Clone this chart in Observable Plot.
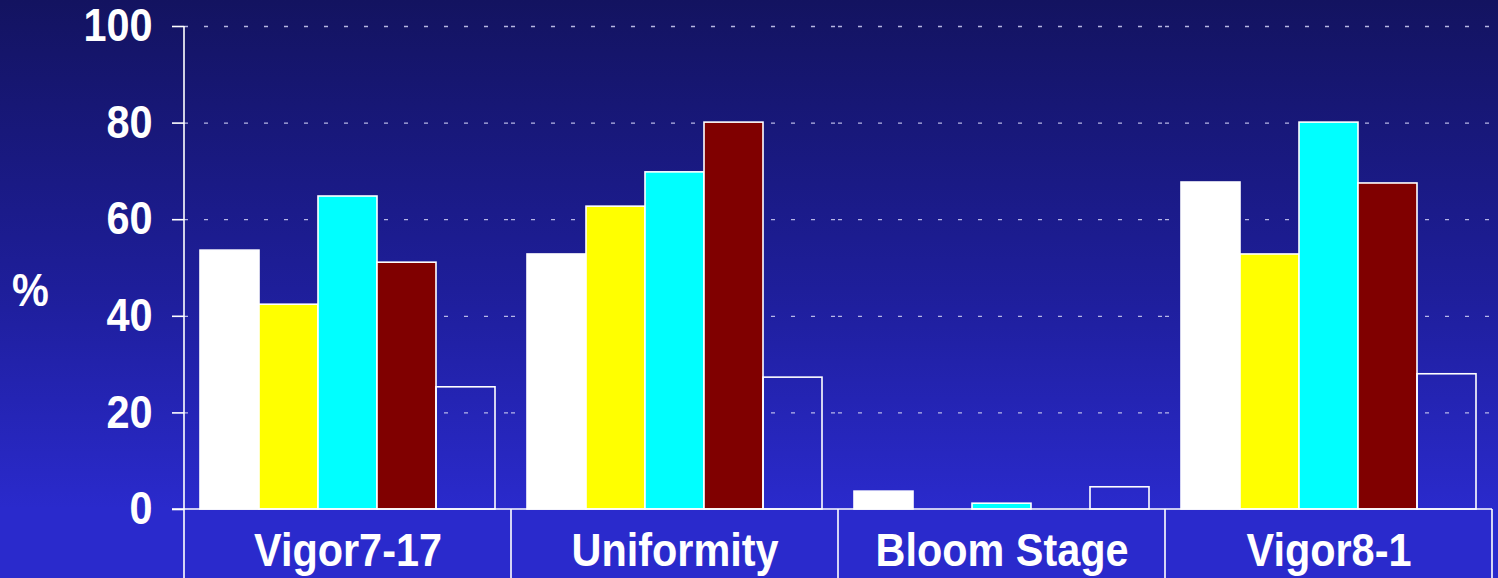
<!DOCTYPE html>
<html><head><meta charset="utf-8">
<script src="https://cdn.jsdelivr.net/npm/d3@7"></script>
<script src="https://cdn.jsdelivr.net/npm/@observablehq/plot@0.6"></script>
<style>
html,body{margin:0;padding:0;width:1498px;height:578px;overflow:hidden;background:linear-gradient(to bottom,#131360 0%,#1e1e9a 50%,#2a2acc 88%,#2a2acc 100%);}
</style></head><body><div id="chart"></div>
<script>
const categories = ["Vigor7-17", "Uniformity", "Bloom Stage", "Vigor8-1"];
const seriesNames = ["S1", "S2", "S3", "S4", "S5"];
const seriesFills = ["#ffffff", "#ffff00", "#00ffff", "#800000", "none"];
const vigor717 = [53.6, 42.4, 64.8, 51.1, 25.3];
const uniformity = [52.8, 62.7, 69.8, 80.1, 27.3];
const bloomStage = [3.7, 0, 1.2, 0, 4.6];
const vigor81 = [67.7, 52.8, 80.1, 67.5, 28.0];
const yTicks = [0, 20, 40, 60, 80, 100];
const yLabel = "%";

const valuesByCategory = [vigor717, uniformity, bloomStage, vigor81];
const data = categories.flatMap((c, i) => seriesNames.map((s, j) => ({category: c, series: s, value: valuesByCategory[i][j]})));

const font = '"Liberation Sans",Arial,sans-serif';

const chart = Plot.plot({
  width: 1498, height: 578,
  marginLeft: 183, marginRight: 6, marginTop: 26, marginBottom: 69,
  style: {background: "transparent", color: "white", fontFamily: font, fontWeight: "bold", overflow: "visible"},
  fx: {domain: categories, padding: 0},
  x: {domain: seriesNames, paddingInner: 0, paddingOuter: 0.235, axis: null},
  y: {domain: [0, 100], ticks: yTicks},
  color: {type: "ordinal", domain: seriesNames, range: seriesFills},
  marks: [
    Plot.gridY(yTicks.filter(t => t > 0), {stroke: "#c8c8ee", strokeOpacity: 0.9, strokeWidth: 1.3, strokeDasharray: "4,16"}),
    Plot.barY(data, {fx: "category", x: "series", y: "value", fill: "series", stroke: "white", strokeWidth: 1.6}),
    Plot.axisY(yTicks, {tickSize: 12, tickPadding: 20, fontSize: 46, label: null, strokeWidth: 1.6}),
    Plot.axisFx({anchor: "bottom", tickSize: 0, tickPadding: 24, fontSize: 46, label: null}),
  ]
});
document.getElementById("chart").appendChild(chart);

// axis lines and category dividers, positioned from Plot's own scales
const fx = chart.scale("fx"), y = chart.scale("y");
const svg = d3.select(chart);
const y0 = y.apply(0);
const bw = fx.bandwidth;
const g = svg.append("g").attr("stroke", "white").attr("stroke-width", 1.6);
const left = fx.apply(categories[0]);
const right = fx.apply(categories[categories.length - 1]) + bw;
g.append("line").attr("x1", left - 12).attr("x2", right).attr("y1", y0).attr("y2", y0);
g.append("line").attr("x1", left).attr("x2", left).attr("y1", y.apply(100)).attr("y2", 578);
categories.forEach(c => {
  const xr = fx.apply(c) + bw;
  g.append("line").attr("x1", xr).attr("x2", xr).attr("y1", y0).attr("y2", 578);
});
svg.append("text").attr("x", 12).attr("y", (y.apply(100) + y0) / 2 + 38)
  .attr("text-anchor", "start")
  .attr("fill", "white").attr("font-size", 46).attr("font-weight", "bold").attr("font-family", font).text(yLabel);

// narrow the bold type to match the condensed face of the original
svg.selectAll("text").each(function () {
  const len = this.getComputedTextLength();
  if (len > 0) {
    this.setAttribute("textLength", (len * 0.9).toFixed(1));
    this.setAttribute("lengthAdjust", "spacingAndGlyphs");
  }
});
</script></body></html>
